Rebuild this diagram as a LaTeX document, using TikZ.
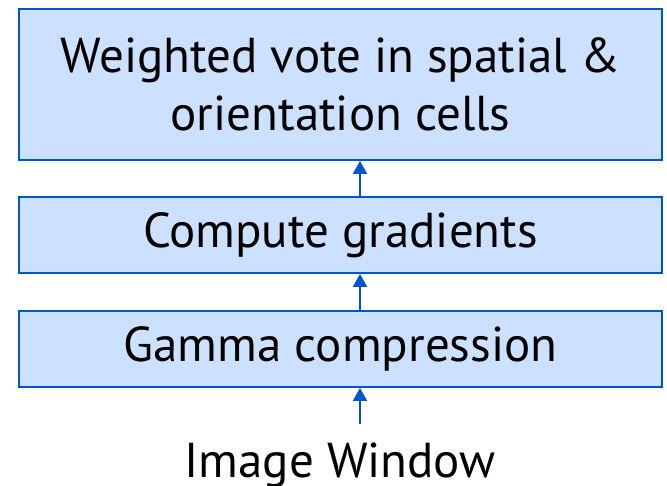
\documentclass[tikz,border=0pt]{standalone}
\usepackage{fontspec}
\setmainfont{PT Sans}
\usetikzlibrary{arrows.meta}
\definecolor{boxfill}{RGB}{204,224,255}
\definecolor{boxline}{RGB}{0,85,204}
\begin{document}
\begin{tikzpicture}[x=1pt,y=-1pt,
  stage/.style={draw=boxline,fill=boxfill,line width=1.8pt,minimum width=643pt,inner sep=0pt,font=\fontsize{49}{58}\selectfont,align=center},
  flow/.style={draw=boxline,line width=1.8pt,-{Triangle[length=13pt,width=14pt]}}]
\useasboundingbox (0,0) rectangle (667,486);
\node[stage,minimum height=151pt] (vote) at (340.5,84.5) {Weighted vote in spatial \&\\orientation cells};
\node[stage,minimum height=76pt] (grad) at (340.5,235) {Compute gradients};
\node[stage,minimum height=76pt] (gamma) at (340.5,349) {Gamma compression};
\node[font=\fontsize{49}{58}\selectfont,anchor=base,inner sep=0pt] (img) at (340,477) {Image Window};
\coordinate (ax) at (360,0);
\coordinate (imgtop) at (360,424);
\draw[flow] (imgtop) -- (gamma.south -| ax);
\draw[flow] (gamma.north -| ax) -- (grad.south -| ax);
\draw[flow] (grad.north -| ax) -- (vote.south -| ax);
\end{tikzpicture}
\end{document}
